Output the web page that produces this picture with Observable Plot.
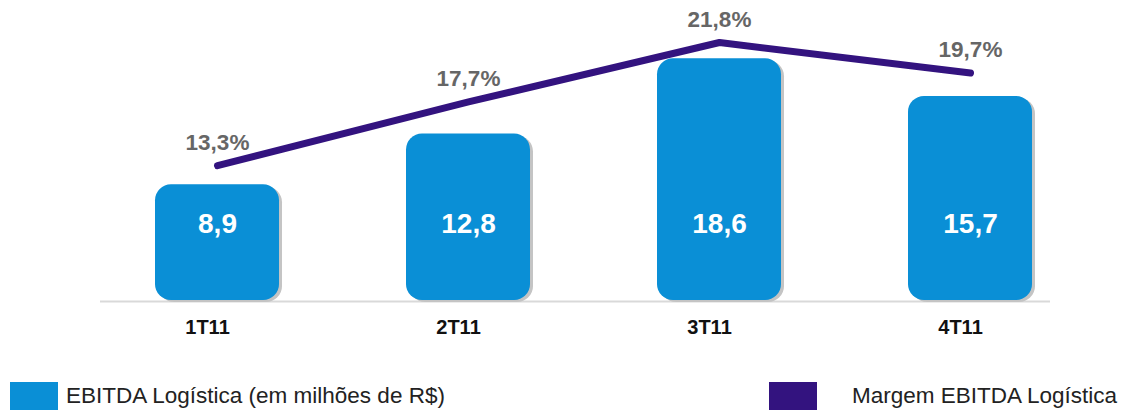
<!DOCTYPE html>
<html>
<head>
<meta charset="utf-8">
<script src="https://cdn.jsdelivr.net/npm/d3@7"></script>
<script src="https://cdn.jsdelivr.net/npm/@observablehq/plot@0.6"></script>
<style>
  html, body { margin: 0; padding: 0; background: #fff; }
  #wrap { position: relative; width: 1123px; height: 412px; font-family: "Liberation Sans", Arial, Helvetica, sans-serif; overflow: hidden; }
  #wrap svg { position: absolute; left: 0; top: 0; }
  .sw { position: absolute; width: 48px; height: 28px; }
  .lt { position: absolute; font-size: 22.5px; color: #222; white-space: nowrap; line-height: 28px; }
</style>
</head>
<body>
<div id="wrap"></div>
<script>
const categories = ["1T11", "2T11", "3T11", "4T11"];
const ebitda = [8.9, 12.8, 18.6, 15.7];          // EBITDA Logística (R$ milhões)
const margem = [13.3, 17.7, 21.8, 19.7];         // Margem EBITDA Logística (%)
const seriesNames = ["EBITDA Logística (em milhões de R$)", "Margem EBITDA Logística"];
const seriesColors = ["#0a8fd6", "#33137f"];

const fmt = v => v.toFixed(1).replace(".", ",");
const data = categories.map((c, i) => ({cat: c, ebitda: ebitda[i], margem: margem[i]}));

const W = 1123, H = 345;
const common = {
  width: W, height: H,
  marginTop: 0, marginBottom: 45, marginLeft: 78, marginRight: 13,
  x: {type: "band", domain: categories, paddingInner: 0.504, paddingOuter: 0.3, axis: null},
  style: {background: "transparent", fontFamily: "'Liberation Sans', Arial, Helvetica, sans-serif", overflow: "visible"}
};

const bars = Plot.plot({
  ...common,
  y: {domain: [0, 23.08], axis: null},
  marks: [
    Plot.ruleY([0], {stroke: "#d9d9d9", strokeWidth: 2, insetLeft: 22, insetRight: 60, dy: 1}),
    Plot.barY(data, {x: "cat", y: "ebitda", fill: "#c4c4c4", rx: 16, dx: 3, dy: 2}),
    Plot.barY(data, {x: "cat", y: "ebitda", fill: seriesColors[0], rx: 16}),
    Plot.text(data, {x: "cat", y: () => 6, text: d => fmt(d.ebitda), fill: "white", fontSize: 28, fontWeight: "bold", dy: 2}),
    Plot.text(data, {x: "cat", y: () => 0, text: "cat", fill: "#111", fontSize: 20, fontWeight: "bold", dy: 27, dx: -10})
  ]
});

const line = Plot.plot({
  ...common,
  y: {domain: [4, 24.7], axis: null},
  marks: [
    Plot.line(data, {x: "cat", y: "margem", stroke: seriesColors[1], strokeWidth: 7, strokeLinecap: "round"}),
    Plot.text(data, {x: "cat", y: "margem", text: d => fmt(d.margem) + "%", fill: "#666", fontSize: 22.5, fontWeight: "bold", dy: -23})
  ]
});

const wrap = document.getElementById("wrap");
wrap.appendChild(bars);
wrap.appendChild(line);

// legend
const legendPos = [{sx: 10, tx: 66}, {sx: 769, tx: 852}];
seriesNames.forEach((name, i) => {
  const sw = document.createElement("div");
  sw.className = "sw";
  sw.style.left = legendPos[i].sx + "px";
  sw.style.top = "382px";
  sw.style.background = seriesColors[i];
  wrap.appendChild(sw);
  const t = document.createElement("div");
  t.className = "lt";
  t.style.left = legendPos[i].tx + "px";
  t.style.top = "382px";
  t.textContent = name;
  wrap.appendChild(t);
});
</script>
</body>
</html>
